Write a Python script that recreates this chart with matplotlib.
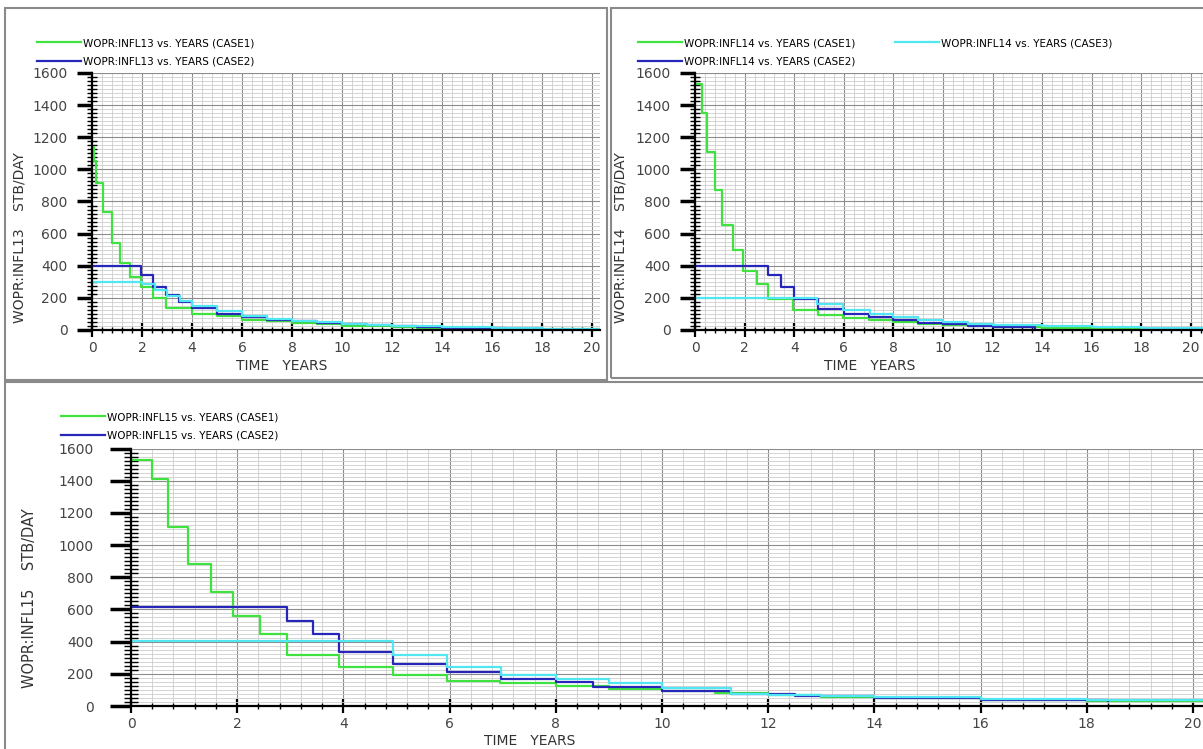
import numpy as np
import matplotlib.pyplot as plt
from matplotlib.patches import Rectangle
from matplotlib.ticker import MultipleLocator

# data (time in years, rate in STB/DAY)
t13_case1 = [0, 0.08, 0.15, 0.44, 0.8, 1.12, 1.5, 1.97, 2.45, 2.97, 4.0, 5.0, 6.0, 7.0, 8.0, 9.0, 10.0, 11.0, 12.0, 13.0, 14.0, 16.0, 18.0, 20.3]
q13_case1 = [1140, 1050, 915, 735, 540, 420, 330, 265, 200, 135, 100, 85, 65, 55, 45, 35, 28, 22, 17, 13, 10, 7, 5, 5]
t13_case2 = [0, 1.97, 2.45, 2.97, 3.47, 4.0, 5.0, 6.0, 7.0, 8.0, 9.0, 10.0, 11.0, 12.0, 13.0, 14.0, 16.0, 16.5]
q13_case2 = [400, 345, 270, 215, 175, 135, 100, 80, 65, 55, 45, 37, 30, 24, 19, 15, 10, 10]
t13_case3 = [0, 2.0, 2.5, 3.0, 3.5, 4.0, 5.0, 6.0, 7.0, 8.0, 9.0, 10.0, 11.0, 12.0, 14.0, 16.0, 18.0, 20.3]
q13_case3 = [300, 285, 250, 210, 180, 150, 120, 90, 70, 58, 48, 40, 32, 25, 18, 12, 9, 9]

t14_case1 = [0, 0.27, 0.47, 0.8, 1.1, 1.55, 1.95, 2.5, 2.96, 3.97, 4.97, 5.98, 7.0, 8.0, 9.0, 10.0, 11.0, 12.0, 14.0, 16.0, 18.0, 20.5]
q14_case1 = [1530, 1350, 1110, 870, 655, 495, 370, 285, 195, 125, 92, 76, 60, 48, 38, 30, 24, 19, 13, 9, 7, 6]
t14_case2 = [0, 2.95, 3.48, 4.0, 4.95, 6.0, 7.0, 8.0, 9.0, 10.0, 11.0, 12.0, 13.7]
q14_case2 = [400, 340, 270, 190, 130, 100, 80, 65, 45, 35, 27, 20, 15]
t14_case3 = [0, 4.93, 5.98, 7.05, 8.0, 9.0, 10.0, 11.0, 12.0, 14.0, 16.0, 18.0, 20.5]
q14_case3 = [200, 160, 125, 100, 80, 60, 47, 38, 30, 22, 16, 12, 10]

t15_case1 = [0, 0.4, 0.7, 1.08, 1.5, 1.92, 2.42, 2.93, 3.92, 4.93, 5.95, 6.95, 8.0, 9.0, 10.0, 11.0, 12.0, 13.0, 14.0, 16.0, 18.0, 20.3]
q15_case1 = [1530, 1410, 1110, 880, 710, 560, 445, 320, 245, 195, 158, 140, 122, 105, 92, 78, 67, 58, 50, 40, 32, 28]
t15_case2 = [0, 2.93, 3.43, 3.92, 4.93, 5.95, 6.97, 8.0, 8.7, 10.0, 11.3, 12.5, 13.4, 14.0, 16.0, 18.4]
q15_case2 = [615, 530, 445, 335, 258, 210, 165, 148, 120, 95, 76, 65, 60, 50, 40, 32]
t15_case3 = [0, 4.93, 5.95, 6.97, 8.0, 9.0, 10.0, 11.3, 12.0, 13.0, 14.0, 16.0, 18.0, 20.3]
q15_case3 = [405, 315, 240, 195, 170, 140, 112, 75, 68, 62, 55, 45, 36, 30]

green = '#3fe23f'
blue = '#2626b8'
cyan = '#50e6f2'
W, H = 1203, 749


def fx(px):
    return px / W


def fy(py):
    return (H - py) / H


def setup_axes(ax, well, xmax, big=False):
    ax.set_xlim(0, xmax)
    ax.set_ylim(0, 1600)
    ax.xaxis.set_major_locator(MultipleLocator(2))
    ax.xaxis.set_minor_locator(MultipleLocator(0.4))
    ax.yaxis.set_major_locator(MultipleLocator(200))
    ax.yaxis.set_minor_locator(MultipleLocator(25))
    ax.grid(which='major', color='#8c8c8c', lw=0.8)
    ax.grid(which='minor', color='#cdcdcd', lw=0.6)
    ax.set_axisbelow(True)
    for s in ['top', 'right']:
        ax.spines[s].set_visible(False)
    for s in ['left', 'bottom']:
        ax.spines[s].set_linewidth(1.6)
    if big:
        ymaj, ymin, ypad, yfs = 15, 10, 12, 10.5
    else:
        ymaj, ymin, ypad, yfs = 11, 7, 6.5, 10
    ax.tick_params(axis='y', which='major', direction='out', length=ymaj, width=2.5,
                   labelsize=10, labelcolor='#444444', pad=ypad)
    ax.tick_params(axis='y', which='minor', direction='inout', length=ymin, width=1)
    ax.tick_params(axis='x', which='major', direction='inout', length=10, width=1.6,
                   labelsize=10, labelcolor='#444444', pad=3)
    ax.tick_params(axis='x', which='minor', direction='inout', length=5, width=1)
    ax.set_ylabel('WOPR:INFL' + well + '    STB/DAY', fontsize=yfs, color='#333333')
    ax.set_xlabel('TIME   YEARS', fontsize=10, color='#333333')


leg_kw = dict(loc='upper left', frameon=False, fontsize=7.5, handlelength=4.2,
              handletextpad=0.2, borderpad=0, borderaxespad=0, labelspacing=0.8)

fig = plt.figure(figsize=(12.03, 7.49), dpi=100)

# panel frames
fig.patches.append(Rectangle((fx(5), fy(380)), fx(602), 372 / H, transform=fig.transFigure,
                             fill=False, ec='#8a8a8a', lw=1.5))
fig.patches.append(Rectangle((fx(611), fy(378)), fx(600), 370 / H, transform=fig.transFigure,
                             fill=False, ec='#8a8a8a', lw=1.5))
fig.patches.append(Rectangle((fx(5), fy(752)), fx(1205), 370 / H, transform=fig.transFigure,
                             fill=False, ec='#8a8a8a', lw=1.5))

# top left
ax1 = fig.add_axes([fx(92), fy(330), 20.3 * 25 / W, 257 / H])
l1, = ax1.step(t13_case1, q13_case1, where='post', color=green, lw=1.6)
l2, = ax1.step(t13_case2, q13_case2, where='post', color=blue, lw=1.6)
ax1.step(t13_case3, q13_case3, where='post', color=cyan, lw=1.6)
setup_axes(ax1, '13', 20.3)
ax1.yaxis.set_label_coords(-0.13, 0.36)
ax1.xaxis.set_label_coords(0.374, -0.113)
fig.legend([l1, l2], ['WOPR:INFL13 vs. YEARS (CASE1)', 'WOPR:INFL13 vs. YEARS (CASE2)'],
           bbox_to_anchor=(fx(37), fy(38)), **leg_kw)

# top right
ax2 = fig.add_axes([fx(695), fy(330), 20.5 * 24.8 / W, 257 / H])
m1, = ax2.step(t14_case1, q14_case1, where='post', color=green, lw=1.6)
m2, = ax2.step(t14_case2, q14_case2, where='post', color=blue, lw=1.6)
m3, = ax2.step(t14_case3, q14_case3, where='post', color=cyan, lw=1.6)
setup_axes(ax2, '14', 20.5)
ax2.yaxis.set_label_coords(-0.132, 0.36)
ax2.xaxis.set_label_coords(0.344, -0.113)
fig.legend([m1, m2, m3], ['WOPR:INFL14 vs. YEARS (CASE1)', 'WOPR:INFL14 vs. YEARS (CASE2)',
                          'WOPR:INFL14 vs. YEARS (CASE3)'],
           bbox_to_anchor=(fx(638), fy(38)), ncol=2, columnspacing=3.8, **leg_kw)

# bottom
ax3 = fig.add_axes([fx(131), fy(706), 20.2 * 53.1 / W, 257.5 / H])
n1, = ax3.step(t15_case1, q15_case1, where='post', color=green, lw=1.6)
n2, = ax3.step(t15_case2, q15_case2, where='post', color=blue, lw=1.6)
ax3.step(t15_case3, q15_case3, where='post', color=cyan, lw=1.6)
setup_axes(ax3, '15', 20.2, big=True)
ax3.yaxis.set_label_coords(-0.088, 0.42)
ax3.xaxis.set_label_coords(0.372, -0.109)
fig.legend([n1, n2], ['WOPR:INFL15 vs. YEARS (CASE1)', 'WOPR:INFL15 vs. YEARS (CASE2)'],
           bbox_to_anchor=(fx(61), fy(412)), **leg_kw)

fig.savefig('out.png', dpi=100)
